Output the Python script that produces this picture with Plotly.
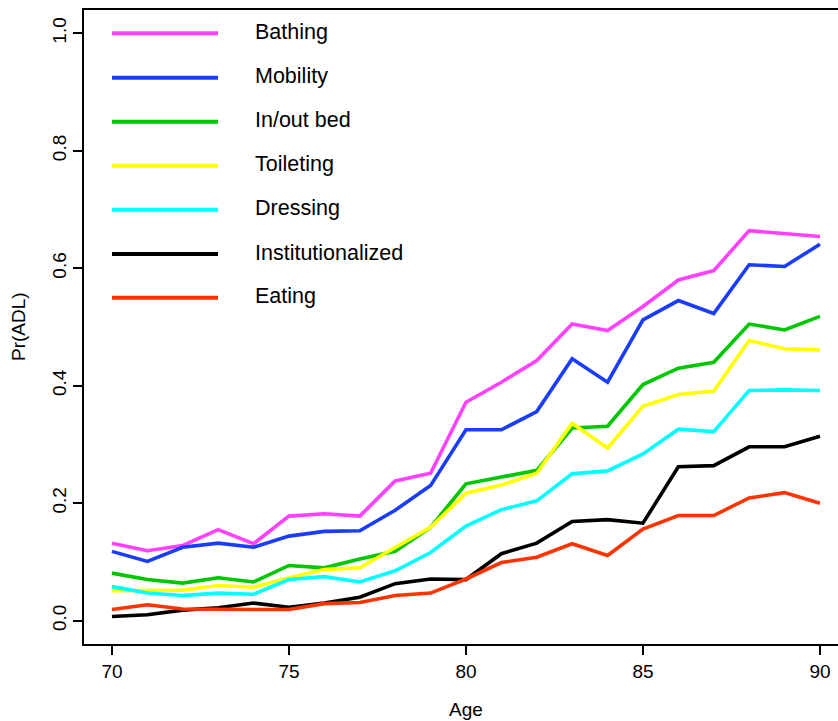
import plotly.graph_objects as go

ages = list(range(70, 91))

bathing = [0.132, 0.119, 0.128, 0.155, 0.131, 0.178, 0.182, 0.178, 0.238, 0.251, 0.372,
           0.406, 0.443, 0.505, 0.494, 0.535, 0.580, 0.596, 0.664, 0.659, 0.654]
mobility = [0.118, 0.101, 0.125, 0.132, 0.125, 0.144, 0.152, 0.153, 0.188, 0.230, 0.325,
            0.325, 0.356, 0.446, 0.406, 0.512, 0.545, 0.523, 0.606, 0.603, 0.641]
inout_bed = [0.081, 0.070, 0.064, 0.073, 0.066, 0.094, 0.090, 0.105, 0.118, 0.159, 0.233,
             0.245, 0.256, 0.328, 0.331, 0.402, 0.430, 0.440, 0.505, 0.495, 0.518]
toileting = [0.051, 0.051, 0.052, 0.060, 0.057, 0.073, 0.087, 0.090, 0.124, 0.159, 0.217,
             0.231, 0.251, 0.336, 0.294, 0.365, 0.385, 0.391, 0.477, 0.463, 0.461]
dressing = [0.058, 0.047, 0.043, 0.047, 0.045, 0.070, 0.075, 0.066, 0.085, 0.116, 0.161,
            0.189, 0.204, 0.250, 0.255, 0.284, 0.326, 0.322, 0.392, 0.393, 0.392]
institutionalized = [0.007, 0.010, 0.018, 0.022, 0.030, 0.023, 0.030, 0.040, 0.063, 0.071, 0.070,
                     0.114, 0.132, 0.169, 0.172, 0.166, 0.262, 0.264, 0.296, 0.296, 0.314]
eating = [0.019, 0.027, 0.020, 0.019, 0.019, 0.019, 0.029, 0.031, 0.043, 0.047, 0.071,
          0.099, 0.108, 0.131, 0.111, 0.156, 0.179, 0.179, 0.209, 0.218, 0.200]

series_names = ["Bathing", "Mobility", "In/out bed", "Toileting", "Dressing",
                "Institutionalized", "Eating"]
series_values = [bathing, mobility, inout_bed, toileting, dressing, institutionalized, eating]
series_colors = ["#FF40FF", "#1A3CFF", "#00C800", "#FFFF00", "#00FFFF", "#000000", "#FF3300"]

x_ticks = [70, 75, 80, 85, 90]
y_ticks = [0.0, 0.2, 0.4, 0.6, 0.8, 1.0]
y_tick_labels = ["0.0", "0.2", "0.4", "0.6", "0.8", "1.0"]

W, H = 838, 721
ML, MT, MR, MB = 84, 10, 0, 77
PW = W - ML - MR
PH = H - MT - MB
FONT = "Liberation Sans, Arial, Helvetica, sans-serif"
LEGEND_ROW_PX = [33.3, 77.7, 121.7, 165.7, 209.7, 254.0, 297.7]


def px_x(p):
    return (p - ML) / PW


def px_y(p):
    return 1 - (p - MT) / PH


fig = go.Figure()
for name, vals, col in zip(series_names, series_values, series_colors):
    fig.add_trace(go.Scatter(x=ages, y=vals, mode="lines", name=name,
                             line=dict(color=col, width=3.6), showlegend=False))

# manual legend (R-style)
shapes = []
annotations = []
for name, col, rp in zip(series_names, series_colors, LEGEND_ROW_PX):
    yy = px_y(rp)
    shapes.append(dict(type="line", xref="paper", yref="paper",
                       x0=px_x(112), x1=px_x(218), y0=yy, y1=yy,
                       line=dict(color=col, width=4)))
    annotations.append(dict(xref="paper", yref="paper", x=px_x(253), y=px_y(rp - 1.5),
                            text=name, showarrow=False, xanchor="left", yanchor="middle",
                            font=dict(family=FONT, size=21.5, color="black")))

# axis titles
annotations.append(dict(xref="paper", yref="paper", x=px_x(466), y=px_y(709),
                        text="Age", showarrow=False, xanchor="center", yanchor="middle",
                        font=dict(family=FONT, size=19, color="black")))
annotations.append(dict(xref="paper", yref="paper", x=px_x(18), y=px_y(327),
                        text="Pr(ADL)", showarrow=False, xanchor="center", yanchor="middle",
                        textangle=-90, font=dict(family=FONT, size=19, color="black")))

fig.update_layout(
    width=W, height=H,
    margin=dict(l=ML, r=MR, t=MT, b=MB, pad=0),
    plot_bgcolor="white", paper_bgcolor="white",
    font=dict(family=FONT, size=19, color="black"),
    shapes=shapes, annotations=annotations,
    xaxis=dict(range=[69.21, 90.51], tickvals=x_ticks, ticks="outside", ticklen=9,
               tickwidth=1.5, tickcolor="black", showline=True, linecolor="black",
               linewidth=1.7, mirror=True, showgrid=False, zeroline=False,
               tickfont=dict(family=FONT, size=19, color="black")),
    yaxis=dict(range=[-0.0397, 1.0397], tickvals=y_ticks, ticktext=y_tick_labels,
               ticks="outside", ticklen=9, tickwidth=1.5, tickcolor="black",
               showline=True, linecolor="black", linewidth=1.7, mirror=False,
               showgrid=False, zeroline=False, tickangle=-90,
               tickfont=dict(family=FONT, size=19, color="black")),
)

fig.write_html("out.html")
